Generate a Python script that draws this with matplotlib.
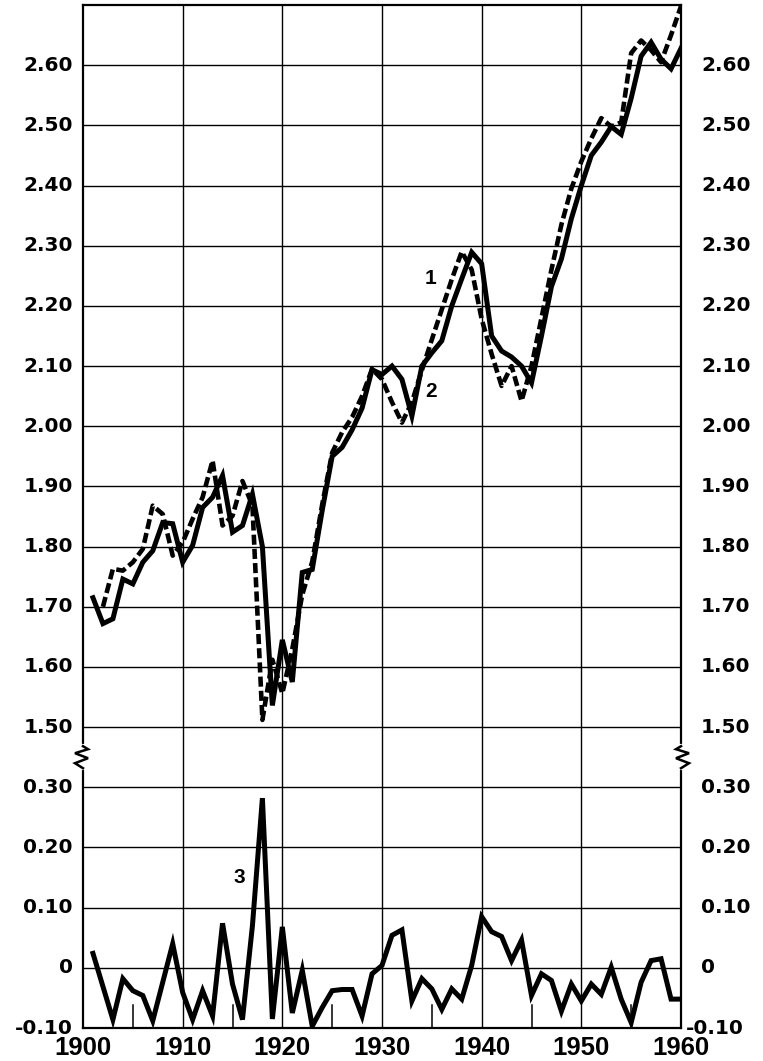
import numpy as np
import matplotlib
matplotlib.use("Agg")
import matplotlib.pyplot as plt
import matplotlib.transforms as mtransforms
from matplotlib.lines import Line2D

# ---------------- data ----------------
years1 = list(range(1901, 1961))
series1 = [1.715, 1.672, 1.680, 1.746, 1.738, 1.774, 1.793, 1.840, 1.838, 1.774,
           1.802, 1.865, 1.882, 1.918, 1.824, 1.835, 1.887, 1.800, 1.536, 1.645,
           1.575, 1.757, 1.762, 1.860, 1.950, 1.965, 1.994, 2.030, 2.094, 2.086,
           2.100, 2.078, 2.017, 2.100, 2.122, 2.142, 2.200, 2.245, 2.289, 2.270,
           2.150, 2.125, 2.115, 2.100, 2.072, 2.150, 2.232, 2.278, 2.345, 2.400,
           2.450, 2.472, 2.498, 2.485, 2.545, 2.615, 2.638, 2.610, 2.594, 2.628]

years2 = list(range(1902, 1961))
series2 = [1.700, 1.763, 1.760, 1.774, 1.796, 1.868, 1.854, 1.785, 1.807,
           1.846, 1.882, 1.943, 1.835, 1.851, 1.909, 1.868, 1.512, 1.612, 1.556,
           1.630, 1.720, 1.775, 1.870, 1.956, 1.990, 2.015, 2.050, 2.095, 2.078,
           2.040, 2.006, 2.040, 2.093, 2.144, 2.194, 2.244, 2.290, 2.260, 2.178,
           2.120, 2.067, 2.100, 2.042, 2.100, 2.180, 2.260, 2.335, 2.395, 2.440,
           2.478, 2.512, 2.498, 2.505, 2.620, 2.641, 2.625, 2.605, 2.650, 2.698]

years3 = list(range(1901, 1961))
series3 = [0.024, -0.031, -0.086, -0.018, -0.038, -0.046, -0.088, -0.024, 0.040, -0.041,
           -0.086, -0.038, -0.080, 0.074, -0.027, -0.086, 0.070, 0.282, -0.085, 0.068,
           -0.075, -0.004, -0.097, -0.066, -0.038, -0.036, -0.036, -0.080, -0.010, 0.004,
           0.054, 0.063, -0.055, -0.018, -0.035, -0.069, -0.035, -0.052, 0.004, 0.085,
           0.060, 0.052, 0.012, 0.046, -0.046, -0.010, -0.021, -0.072, -0.027, -0.055,
           -0.027, -0.044, 0.001, -0.052, -0.091, -0.024, 0.012, 0.015, -0.052, -0.052]

upper_ticks = [1.50, 1.60, 1.70, 1.80, 1.90, 2.00, 2.10, 2.20, 2.30, 2.40, 2.50, 2.60]
upper_labels = ["1.50", "1.60", "1.70", "1.80", "1.90", "2.00", "2.10", "2.20",
                "2.30", "2.40", "2.50", "2.60"]
lower_ticks = [-0.10, 0.0, 0.10, 0.20, 0.30]
lower_labels = ["-0.10", "0", "0.10", "0.20", "0.30"]
x_ticks = [1900, 1910, 1920, 1930, 1940, 1950, 1960]
minor_x = [1905, 1915, 1925, 1935, 1945, 1955]

LOWER_SHIFT = 1.10   # lower panel value v is drawn at v + 1.10 (0.30 sits one step below 1.50)
BREAK_Y = 1.45

# ---------------- figure ----------------
W, H = 763, 1061
fig = plt.figure(figsize=(W / 100, H / 100), dpi=100)
L, R, T, B = 83, 681, 5, 1028
ax = fig.add_axes([L / W, 1 - B / H, (R - L) / W, (B - T) / H])
ax.set_xlim(1900, 1960)
ax.set_ylim(1.00, 2.70)

# grid
for yv in upper_ticks:
    ax.axhline(yv, color="black", lw=1.0, zorder=1)
for yv in lower_ticks[1:]:
    ax.axhline(yv + LOWER_SHIFT, color="black", lw=1.0, zorder=1)
for xv in x_ticks[1:-1]:
    ax.axvline(xv, color="black", lw=1.0, zorder=1)

for sp in ax.spines.values():
    sp.set_linewidth(1.6)
    sp.set_zorder(5)
ax.set_xticks([])
ax.set_yticks([])

# small inward ticks at half decades on the bottom
for xv in minor_x:
    ax.plot([xv, xv], [1.00, 1.00 + 23 / 603 * 1.0], color="black", lw=1.1, zorder=1)

# series
ax.plot(years1, series1, color="black", lw=3.6, solid_joinstyle="miter", zorder=3)
ax.plot(years2, series2, color="black", lw=3.3, linestyle=(0, (2.2, 0.9)),
        dash_capstyle="butt", zorder=4)
ax.plot(years3, [v + LOWER_SHIFT for v in series3], color="black", lw=3.6,
        solid_joinstyle="miter", zorder=3)

# series labels
lab_kw = dict(fontsize=15, fontweight="bold", family="Liberation Sans",
              ha="center", va="center", zorder=6)
ax.text(1934.9, 2.245, "1", **lab_kw)
ax.text(1934.9, 2.057, "2", **lab_kw)
ax.text(1915.7, 0.15 + LOWER_SHIFT, "3", **lab_kw)

# y labels
ylab_kw = dict(fontsize=14.5, fontweight="bold", family="DejaVu Sans", va="center")
btrans = mtransforms.blended_transform_factory(ax.transAxes, ax.transData)
left_tr = mtransforms.offset_copy(btrans, fig=fig, x=-10, y=0, units="dots")
right_tr = mtransforms.offset_copy(btrans, fig=fig, x=20, y=0, units="dots")
right_tr_neg = mtransforms.offset_copy(btrans, fig=fig, x=5, y=0, units="dots")
for yv, s in zip(upper_ticks, upper_labels):
    ax.text(0, yv, s, ha="right", transform=left_tr, **ylab_kw)
    ax.text(1, yv, s, ha="left", transform=right_tr, **ylab_kw)
for yv, s in zip(lower_ticks, lower_labels):
    ax.text(0, yv + LOWER_SHIFT, s, ha="right", transform=left_tr, **ylab_kw)
    tr = right_tr_neg if s.startswith("-") else right_tr
    ax.text(1, yv + LOWER_SHIFT, s, ha="left", transform=tr, **ylab_kw)

# x labels
xtrans = mtransforms.blended_transform_factory(ax.transData, ax.transAxes)
x_tr = mtransforms.offset_copy(xtrans, fig=fig, x=0, y=-8, units="dots")
for xv in x_ticks:
    ax.text(xv, 0, str(xv), ha="center", va="top", transform=x_tr,
            fontsize=18.5, fontweight="bold", family="Liberation Sans")

# axis break marks on both spines
fig.canvas.draw()
_, ybrk = ax.transData.transform((1900, BREAK_Y))
zig = [(0, 11), (5, 8), (-8, 4), (5, -1), (-8, -6), (0, -11)]
for xs, sign in ((L, 1), (R, -1)):
    fig.add_artist(Line2D([xs, xs], [ybrk - 11, ybrk + 11], transform=None,
                          color="white", lw=3, zorder=10))
    xsz = [xs + sign * dx for dx, dy in zig]
    ysz = [ybrk + dy for dx, dy in zig]
    fig.add_artist(Line2D(xsz, ysz, transform=None, color="black", lw=1.8,
                          solid_joinstyle="miter", zorder=11))

fig.savefig("out.png", dpi=100, facecolor="white")
